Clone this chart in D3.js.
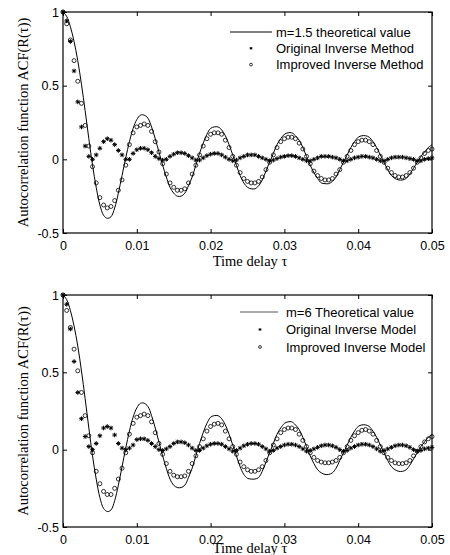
<!DOCTYPE html>
<html>
<head>
<meta charset="utf-8">
<script src="https://cdn.jsdelivr.net/npm/d3@7"></script>
<style>
  body { margin: 0; background: #fff; }
  .tick text { font-family: "Liberation Sans", Arial, sans-serif; font-size: 12.5px; fill: #000; }
  .title { font-family: "Liberation Serif", "Times New Roman", serif; font-size: 14.5px; fill: #000; }
  .leg { font-family: "Liberation Sans", Arial, sans-serif; font-size: 13px; fill: #000; }
</style>
</head>
<body>
<svg width="450" height="555"></svg>
<script>
// time delay samples (s)
var timeDelay = [
  0.0000, 0.0005, 0.0010, 0.0015, 0.0020, 0.0025, 0.0030, 0.0035, 0.0040, 0.0045,
  0.0050, 0.0055, 0.0060, 0.0065, 0.0070, 0.0075, 0.0080, 0.0085, 0.0090, 0.0095,
  0.0100, 0.0105, 0.0110, 0.0115, 0.0120, 0.0125, 0.0130, 0.0135, 0.0140, 0.0145,
  0.0150, 0.0155, 0.0160, 0.0165, 0.0170, 0.0175, 0.0180, 0.0185, 0.0190, 0.0195,
  0.0200, 0.0205, 0.0210, 0.0215, 0.0220, 0.0225, 0.0230, 0.0235, 0.0240, 0.0245,
  0.0250, 0.0255, 0.0260, 0.0265, 0.0270, 0.0275, 0.0280, 0.0285, 0.0290, 0.0295,
  0.0300, 0.0305, 0.0310, 0.0315, 0.0320, 0.0325, 0.0330, 0.0335, 0.0340, 0.0345,
  0.0350, 0.0355, 0.0360, 0.0365, 0.0370, 0.0375, 0.0380, 0.0385, 0.0390, 0.0395,
  0.0400, 0.0405, 0.0410, 0.0415, 0.0420, 0.0425, 0.0430, 0.0435, 0.0440, 0.0445,
  0.0450, 0.0455, 0.0460, 0.0465, 0.0470, 0.0475, 0.0480, 0.0485, 0.0490, 0.0495,
  0.0500
];

// m=1.5 panel
var theoryM15 = [
  1.00, 0.97, 0.90, 0.80, 0.67, 0.51, 0.33, 0.14, -0.04, -0.19,
  -0.31, -0.38, -0.40, -0.39, -0.33, -0.23, -0.11, 0.01, 0.12, 0.21,
  0.27, 0.30, 0.30, 0.28, 0.22, 0.14, 0.05, -0.04, -0.12, -0.19,
  -0.23, -0.25, -0.25, -0.23, -0.18, -0.12, -0.04, 0.04, 0.11, 0.17,
  0.21, 0.22, 0.22, 0.20, 0.16, 0.10, 0.03, -0.04, -0.11, -0.16,
  -0.19, -0.20, -0.20, -0.18, -0.14, -0.08, -0.02, 0.04, 0.10, 0.14,
  0.17, 0.18, 0.18, 0.16, 0.13, 0.08, 0.02, -0.04, -0.09, -0.13,
  -0.16, -0.165, -0.165, -0.15, -0.12, -0.07, -0.02, 0.03, 0.08, 0.12,
  0.15, 0.16, 0.16, 0.15, 0.12, 0.08, 0.03, -0.02, -0.07, -0.11,
  -0.13, -0.14, -0.14, -0.13, -0.10, -0.06, -0.02, 0.02, 0.05, 0.08,
  0.10
];
var originalM15 = [
  1.00, 0.94, 0.80, 0.60, 0.39, 0.22, 0.09, 0.02, 0.00, 0.03,
  0.075, 0.12, 0.14, 0.13, 0.10, 0.06, 0.03, 0.00, 0.00, 0.04,
  0.065, 0.075, 0.075, 0.065, 0.045, 0.02, 0.005, -0.005, 0.00, 0.02,
  0.035, 0.045, 0.045, 0.04, 0.025, 0.01, -0.005, -0.005, 0.01, 0.025,
  0.035, 0.04, 0.04, 0.03, 0.015, 0.00, -0.01, -0.005, 0.01, 0.02,
  0.03, 0.03, 0.03, 0.02, 0.01, 0.00, -0.01, -0.005, 0.005, 0.015,
  0.02, 0.025, 0.025, 0.02, 0.01, 0.00, -0.01, -0.01, 0.00, 0.01,
  0.02, 0.02, 0.02, 0.015, 0.01, 0.00, -0.01, -0.01, 0.00, 0.01,
  0.015, 0.02, 0.02, 0.015, 0.01, 0.00, -0.01, -0.01, 0.00, 0.01,
  0.015, 0.015, 0.015, 0.01, 0.005, 0.00, -0.01, -0.01, 0.00, 0.005,
  0.01
];
var improvedM15 = [
  1.00, 0.92, 0.81, 0.67, 0.53, 0.38, 0.23, 0.09, -0.05, -0.16,
  -0.26, -0.31, -0.33, -0.32, -0.28, -0.21, -0.14, -0.04, 0.10, 0.18,
  0.22, 0.23, 0.24, 0.23, 0.19, 0.12, 0.05, -0.03, -0.10, -0.16,
  -0.19, -0.21, -0.21, -0.20, -0.16, -0.10, -0.04, 0.03, 0.09, 0.14,
  0.17, 0.18, 0.18, 0.17, 0.13, 0.08, 0.02, -0.04, -0.09, -0.13,
  -0.15, -0.16, -0.16, -0.15, -0.12, -0.07, -0.02, 0.03, 0.08, 0.12,
  0.14, 0.15, 0.15, 0.14, 0.11, 0.07, 0.02, -0.03, -0.08, -0.11,
  -0.13, -0.14, -0.14, -0.13, -0.10, -0.07, -0.02, 0.02, 0.06, 0.10,
  0.12, 0.13, 0.13, 0.12, 0.10, 0.06, 0.02, -0.02, -0.06, -0.09,
  -0.11, -0.12, -0.12, -0.11, -0.09, -0.06, -0.02, 0.01, 0.04, 0.06,
  0.07
];

// m=6 panel
var theoryM6 = [
  1.00, 0.97, 0.90, 0.80, 0.67, 0.51, 0.33, 0.14, -0.04, -0.19,
  -0.31, -0.38, -0.40, -0.39, -0.33, -0.23, -0.11, 0.01, 0.12, 0.21,
  0.27, 0.30, 0.30, 0.28, 0.22, 0.14, 0.05, -0.04, -0.12, -0.19,
  -0.23, -0.245, -0.245, -0.23, -0.18, -0.12, -0.04, 0.04, 0.11, 0.17,
  0.21, 0.22, 0.22, 0.20, 0.16, 0.10, 0.03, -0.04, -0.11, -0.16,
  -0.185, -0.19, -0.19, -0.18, -0.14, -0.08, -0.02, 0.04, 0.10, 0.14,
  0.17, 0.18, 0.18, 0.16, 0.13, 0.08, 0.02, -0.04, -0.09, -0.13,
  -0.15, -0.16, -0.16, -0.15, -0.12, -0.07, -0.02, 0.03, 0.08, 0.12,
  0.15, 0.16, 0.16, 0.15, 0.12, 0.08, 0.03, -0.02, -0.07, -0.11,
  -0.13, -0.14, -0.14, -0.13, -0.10, -0.06, -0.02, 0.02, 0.05, 0.08,
  0.095
];
var originalM6 = [
  1.00, 0.94, 0.78, 0.57, 0.37, 0.20, 0.085, 0.02, 0.00, 0.04,
  0.09, 0.14, 0.15, 0.14, 0.095, 0.04, 0.01, 0.00, 0.01, 0.03,
  0.065, 0.07, 0.07, 0.06, 0.04, 0.02, 0.00, -0.005, 0.005, 0.02,
  0.04, 0.05, 0.05, 0.045, 0.03, 0.01, -0.005, -0.005, 0.01, 0.025,
  0.035, 0.04, 0.04, 0.035, 0.02, 0.005, -0.01, -0.005, 0.01, 0.025,
  0.035, 0.04, 0.04, 0.035, 0.02, 0.005, -0.01, -0.005, 0.01, 0.02,
  0.03, 0.035, 0.035, 0.03, 0.02, 0.005, -0.01, -0.005, 0.005, 0.015,
  0.025, 0.03, 0.03, 0.025, 0.015, 0.00, -0.01, -0.005, 0.01, 0.02,
  0.03, 0.035, 0.035, 0.03, 0.02, 0.005, -0.01, -0.005, 0.005, 0.015,
  0.025, 0.03, 0.03, 0.025, 0.015, 0.00, -0.01, -0.005, 0.005, 0.01,
  0.015
];
var improvedM6 = [
  1.00, 0.90, 0.79, 0.65, 0.51, 0.37, 0.22, 0.09, -0.02, -0.14,
  -0.22, -0.27, -0.29, -0.29, -0.25, -0.19, -0.12, -0.02, 0.10, 0.17,
  0.21, 0.22, 0.23, 0.22, 0.18, 0.11, 0.04, -0.03, -0.09, -0.14,
  -0.165, -0.175, -0.175, -0.17, -0.14, -0.09, -0.04, 0.02, 0.07, 0.12,
  0.15, 0.165, 0.17, 0.16, 0.12, 0.07, 0.02, -0.03, -0.08, -0.11,
  -0.13, -0.14, -0.14, -0.13, -0.11, -0.07, -0.02, 0.03, 0.07, 0.11,
  0.13, 0.14, 0.14, 0.13, 0.10, 0.06, 0.02, -0.02, -0.05, -0.07,
  -0.08, -0.085, -0.085, -0.08, -0.07, -0.05, -0.02, 0.02, 0.06, 0.09,
  0.11, 0.125, 0.13, 0.12, 0.10, 0.06, 0.02, -0.02, -0.05, -0.07,
  -0.085, -0.09, -0.09, -0.085, -0.07, -0.04, -0.01, 0.02, 0.05, 0.07,
  0.085
];

var xTicks = [0, 0.01, 0.02, 0.03, 0.04, 0.05];
var yTicks = [-0.5, 0, 0.5, 1];
var legendM15 = ['m=1.5 theoretical value', 'Original Inverse Method', 'Improved Inverse Method'];
var legendM6 = ['m=6 Theoretical value', 'Original Inverse Model', 'Improved Inverse Model'];
var xTitle = 'Time delay \u03c4';
var yTitle = 'Autocorrelation function ACF(R(\u03c4))';

var svg = d3.select('svg');

// MATLAB style '*' marker
function starPath(s) {
  var d = s * 0.7;
  return 'M' + (-s) + ',0H' + s + 'M0,' + (-s) + 'V' + s +
    'M' + (-d) + ',' + (-d) + 'L' + d + ',' + d +
    'M' + (-d) + ',' + d + 'L' + d + ',' + (-d);
}

function drawPanel(p) {
  var x = d3.scaleLinear().domain([0, 0.05]).range([63, 432]);
  var y = d3.scaleLinear().domain([-0.5, 1]).range([p.bottom, p.top]);
  var g = svg.append('g');

  // ticks all round, pointing in
  g.append('g')
    .attr('transform', 'translate(0,' + p.bottom + ')')
    .call(d3.axisBottom(x).tickValues(xTicks).tickSizeInner(-4).tickSizeOuter(0)
      .tickPadding(8).tickFormat(function(d) { return String(d); }));
  g.append('g')
    .attr('transform', 'translate(0,' + p.top + ')')
    .call(d3.axisTop(x).tickValues(xTicks).tickSizeInner(-4).tickSizeOuter(0).tickFormat(''));
  g.append('g')
    .attr('transform', 'translate(63,0)')
    .call(d3.axisLeft(y).tickValues(yTicks).tickSizeInner(-4).tickSizeOuter(0)
      .tickPadding(4).tickFormat(function(d) { return String(d); }));
  g.append('g')
    .attr('transform', 'translate(432,0)')
    .call(d3.axisRight(y).tickValues(yTicks).tickSizeInner(-4).tickSizeOuter(0).tickFormat(''));
  g.selectAll('.domain').remove();
  g.selectAll('.tick line').attr('stroke', '#000').attr('stroke-width', 1);

  g.append('rect')
    .attr('x', 63).attr('y', p.top)
    .attr('width', 432 - 63).attr('height', p.bottom - p.top)
    .attr('fill', 'none').attr('stroke', '#000').attr('stroke-width', 1.2);

  var line = d3.line()
    .x(function(d, i) { return x(timeDelay[i]); })
    .y(function(d) { return y(d); })
    .curve(d3.curveCatmullRom);

  g.append('path')
    .attr('d', line(p.theory))
    .attr('fill', 'none').attr('stroke', '#000').attr('stroke-width', 1);

  g.selectAll('.orig')
    .data(p.original)
    .enter().append('path')
    .attr('class', 'orig')
    .attr('d', starPath(2.3))
    .attr('transform', function(d, i) { return 'translate(' + x(timeDelay[i]) + ',' + y(d) + ')'; })
    .attr('stroke', '#000').attr('stroke-width', 1);

  g.selectAll('.impr')
    .data(p.improved)
    .enter().append('circle')
    .attr('class', 'impr')
    .attr('cx', function(d, i) { return x(timeDelay[i]); })
    .attr('cy', function(d) { return y(d); })
    .attr('r', 2)
    .attr('fill', 'none').attr('stroke', '#000').attr('stroke-width', 0.8);

  // axis titles
  g.append('text')
    .attr('class', 'title')
    .attr('text-anchor', 'middle')
    .attr('transform', 'translate(28,' + ((p.top + p.bottom) / 2) + ') rotate(-90)')
    .text(yTitle);
  g.append('text')
    .attr('class', 'title')
    .attr('text-anchor', 'middle')
    .attr('x', 250).attr('y', p.xTitleY)
    .text(xTitle);

  // legend
  var lg = g.append('g');
  lg.append('line')
    .attr('x1', p.legX1).attr('x2', p.legX2)
    .attr('y1', p.legY).attr('y2', p.legY)
    .attr('stroke', p.legColor).attr('stroke-width', 1);
  lg.append('path')
    .attr('d', starPath(1.3))
    .attr('transform', 'translate(' + p.legMark + ',' + (p.legY + p.legStep) + ')')
    .attr('stroke', '#000').attr('stroke-width', 1);
  lg.append('circle')
    .attr('cx', p.legMark).attr('cy', p.legY + 2 * p.legStep)
    .attr('r', 1.4)
    .attr('fill', 'none').attr('stroke', '#000').attr('stroke-width', 0.8);
  lg.selectAll('text')
    .data(p.names)
    .enter().append('text')
    .attr('class', 'leg')
    .attr('x', p.legText)
    .attr('y', function(d, i) { return p.legY + i * p.legStep + 4.5; })
    .text(function(d) { return d; });
}

drawPanel({
  top: 12, bottom: 233, xTitleY: 266,
  theory: theoryM15, original: originalM15, improved: improvedM15, names: legendM15,
  legX1: 230, legX2: 272, legY: 32, legStep: 16.3, legMark: 251, legText: 276, legColor: '#000'
});
drawPanel({
  top: 295, bottom: 527, xTitleY: 553,
  theory: theoryM6, original: originalM6, improved: improvedM6, names: legendM6,
  legX1: 240, legX2: 278, legY: 312, legStep: 17.5, legMark: 260, legText: 286, legColor: '#555'
});
</script>
</body>
</html>
